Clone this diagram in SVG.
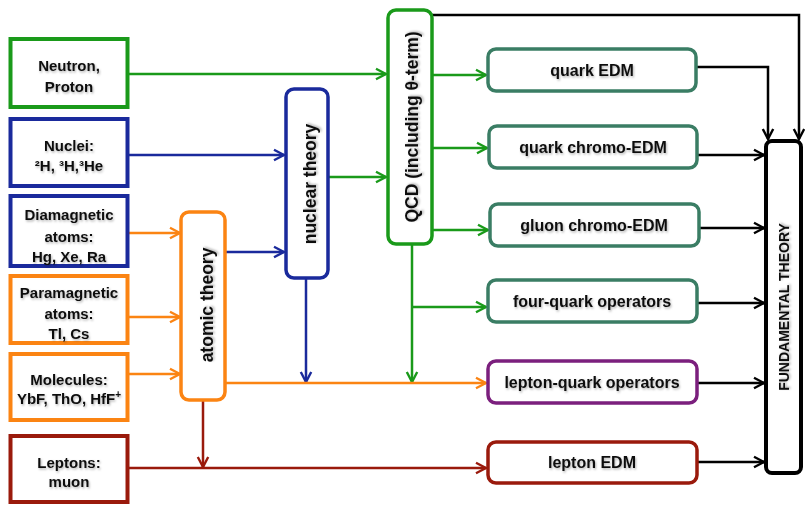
<svg xmlns="http://www.w3.org/2000/svg" width="805" height="505" viewBox="0 0 805 505">
<style>
text{font-family:"Liberation Sans",Arial,sans-serif;font-weight:bold;fill:#111;filter:url(#sh)}
.l{font-size:15px;text-anchor:middle}
.r{font-size:16px;text-anchor:middle}
.v{font-size:17.5px;text-anchor:middle}
.f{font-size:14px;text-anchor:middle}
rect{fill:#fff}
.c path{fill:none;stroke-width:2.5}
.g{stroke:#1a9a1a}.b{stroke:#1a2a9c}.o{stroke:#fb8413}.d{stroke:#9a1a0c}.k{stroke:#000}
</style>
<defs>
<filter id="sh" x="-10%" y="-20%" width="130%" height="160%"><feDropShadow dx="1" dy="1.5" stdDeviation="1" flood-color="#000" flood-opacity="0.3"/></filter>
<marker id="ag" viewBox="0 0 14 14" refX="12" refY="7" markerWidth="14" markerHeight="14" markerUnits="userSpaceOnUse" orient="auto"><path d="M2,1.8 L12,7 L2,12.2" fill="none" stroke="#1a9a1a" stroke-width="2.4"/></marker>
<marker id="ab" viewBox="0 0 14 14" refX="12" refY="7" markerWidth="14" markerHeight="14" markerUnits="userSpaceOnUse" orient="auto"><path d="M2,1.8 L12,7 L2,12.2" fill="none" stroke="#1a2a9c" stroke-width="2.4"/></marker>
<marker id="ao" viewBox="0 0 14 14" refX="12" refY="7" markerWidth="14" markerHeight="14" markerUnits="userSpaceOnUse" orient="auto"><path d="M2,1.8 L12,7 L2,12.2" fill="none" stroke="#fb8413" stroke-width="2.4"/></marker>
<marker id="ad" viewBox="0 0 14 14" refX="12" refY="7" markerWidth="14" markerHeight="14" markerUnits="userSpaceOnUse" orient="auto"><path d="M2,1.8 L12,7 L2,12.2" fill="none" stroke="#9a1a0c" stroke-width="2.4"/></marker>
<marker id="ak" viewBox="0 0 14 14" refX="12" refY="7" markerWidth="14" markerHeight="14" markerUnits="userSpaceOnUse" orient="auto"><path d="M2,1.8 L12,7 L2,12.2" fill="none" stroke="#000" stroke-width="2.4"/></marker>
</defs>

<g id="connectors" class="c">
<path class="g" d="M127,74 H386" marker-end="url(#ag)"/>
<path class="g" d="M328,177 H386" marker-end="url(#ag)"/>
<path class="g" d="M432,75 H486" marker-end="url(#ag)"/>
<path class="g" d="M432,148 H487" marker-end="url(#ag)"/>
<path class="g" d="M432,230 H488" marker-end="url(#ag)"/>
<path class="g" d="M412,245 V382" marker-end="url(#ag)"/>
<path class="g" d="M412,307 H486" marker-end="url(#ag)"/>
<path class="b" d="M129,155 H284" marker-end="url(#ab)"/>
<path class="b" d="M225,252 H284" marker-end="url(#ab)"/>
<path class="b" d="M306,278 V382" marker-end="url(#ab)"/>
<path class="o" d="M128,233 H180" marker-end="url(#ao)"/>
<path class="o" d="M128,317 H180" marker-end="url(#ao)"/>
<path class="o" d="M128,374 H180" marker-end="url(#ao)"/>
<path class="o" d="M225,383 H486" marker-end="url(#ao)"/>
<path class="d" d="M129,468 H486" marker-end="url(#ad)"/>
<path class="d" d="M203,400 V467" marker-end="url(#ad)"/>
<path class="k" d="M432,15 H799 V139" marker-end="url(#ak)"/>
<path class="k" d="M696,67 H768 V139" marker-end="url(#ak)"/>
<path class="k" d="M697,155 H764" marker-end="url(#ak)"/>
<path class="k" d="M699,228 H764" marker-end="url(#ak)"/>
<path class="k" d="M697,303 H764" marker-end="url(#ak)"/>
<path class="k" d="M697,383 H764" marker-end="url(#ak)"/>
<path class="k" d="M697,462 H764" marker-end="url(#ak)"/>
</g>

<g id="neutron-proton"><rect x="10.5" y="39" width="117" height="68" stroke="#1a9a1a" stroke-width="4"/>
<text class="l" x="69" y="71">Neutron,</text><text class="l" x="69" y="92">Proton</text></g>
<g id="nuclei"><rect x="10.5" y="119" width="117" height="67" stroke="#1a2a9c" stroke-width="4"/>
<text class="l" x="69" y="151">Nuclei:</text><text class="l" x="69" y="171">²H, ³H,³He</text></g>
<g id="diamagnetic"><rect x="10.5" y="196" width="117" height="70" stroke="#1a2a9c" stroke-width="4"/>
<text class="l" x="69" y="220">Diamagnetic</text><text class="l" x="69" y="242">atoms:</text><text class="l" x="69" y="262">Hg, Xe, Ra</text></g>
<g id="paramagnetic"><rect x="10.5" y="276" width="117" height="67" stroke="#fb8413" stroke-width="4"/>
<text class="l" x="69" y="298">Paramagnetic</text><text class="l" x="69" y="319">atoms:</text><text class="l" x="69" y="339">Tl, Cs</text></g>
<g id="molecules"><rect x="10.5" y="354" width="117" height="66" stroke="#fb8413" stroke-width="4"/>
<text class="l" x="69" y="385">Molecules:</text><text class="l" x="69" y="404">YbF, ThO, HfF<tspan font-size="10" dy="-6">+</tspan></text></g>
<g id="leptons"><rect x="10.5" y="436" width="117" height="66" stroke="#9a1a0c" stroke-width="4"/>
<text class="l" x="69" y="468">Leptons:</text><text class="l" x="69" y="487">muon</text></g>

<g id="atomic-theory"><rect x="181" y="212" width="44" height="188" rx="8" stroke="#fb8413" stroke-width="3.5"/>
<text class="v" transform="translate(213,305) rotate(-90)">atomic theory</text></g>
<g id="nuclear-theory"><rect x="286" y="89" width="42" height="189" rx="8" stroke="#1a2a9c" stroke-width="3.5"/>
<text class="v" transform="translate(316,184) rotate(-90)">nuclear theory</text></g>
<g id="qcd"><rect x="388" y="10" width="44" height="234" rx="8" stroke="#1a9a1a" stroke-width="3.5"/>
<text class="v" transform="translate(418,127) rotate(-90)">QCD (including θ-term)</text></g>

<g id="quark-edm"><rect x="488" y="49" width="208" height="42" rx="8" stroke="#3a7d64" stroke-width="3.5"/>
<text class="r" x="592" y="76">quark EDM</text></g>
<g id="quark-chromo-edm"><rect x="489" y="126" width="208" height="42" rx="8" stroke="#3a7d64" stroke-width="3.5"/>
<text class="r" x="593" y="153">quark chromo-EDM</text></g>
<g id="gluon-chromo-edm"><rect x="490" y="204" width="209" height="42" rx="8" stroke="#3a7d64" stroke-width="3.5"/>
<text class="r" x="594" y="231">gluon chromo-EDM</text></g>
<g id="four-quark"><rect x="488" y="280" width="209" height="42" rx="8" stroke="#3a7d64" stroke-width="3.5"/>
<text class="r" x="592" y="307">four-quark operators</text></g>
<g id="lepton-quark"><rect x="488" y="361" width="209" height="42" rx="8" stroke="#7b1f7d" stroke-width="3.5"/>
<text class="r" x="592" y="388">lepton-quark operators</text></g>
<g id="lepton-edm"><rect x="488" y="442" width="209" height="41" rx="8" stroke="#9a1a0c" stroke-width="3.5"/>
<text class="r" x="592" y="468">lepton EDM</text></g>

<g id="fundamental-theory"><rect x="766" y="141" width="35" height="332" rx="6" stroke="#000" stroke-width="4"/>
<text class="f" transform="translate(789,307) rotate(-90)">FUNDAMENTAL THEORY</text></g>
</svg>
